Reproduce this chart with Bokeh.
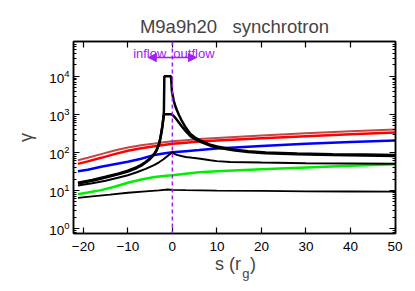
from bokeh.plotting import figure
from bokeh.models import (LogAxis, LinearAxis, Range1d, FixedTicker, LogTicker,
                          CustomJSTickFormatter, Label, Arrow, NormalHead, Span)
from bokeh.embed import file_html
from bokeh.resources import INLINE

# ---------------- data ----------------
s_col = [-21.2, -19, -16, -13, -10, -7, -4, -2, 0, 3, 6, 10, 20, 30, 40, 50]
brown = [62, 72, 90, 112, 135, 155, 172, 185, 195, 210, 225, 240, 280, 320, 360, 400]
red = [50, 58, 72, 90, 110, 128, 145, 157, 168, 180, 192, 205, 235, 265, 300, 335]
blue = [32, 35, 42, 49, 57, 68, 86, 94, 101, 108, 115, 127, 148, 168, 187, 205]
green = [8.0, 8.8, 10.2, 12.5, 16, 19.5, 22.5, 24, 25, 27.5, 30, 32, 36, 40, 44.5, 49]

s_low = [-21.2, -18, -14, -10, -6, -3, -1, 0, 3, 10, 20, 30, 40, 50]
black_low = [6.4, 7.0, 7.8, 8.7, 9.5, 10.1, 10.6, 10.4, 10.2, 9.9, 9.7, 9.5, 9.4, 9.3]

s_k1 = [-21.2, -18, -15, -12, -10, -8, -7, -6, -5, -4, -3.5, -3, -2.7, -2.4, -2.2, -2.0, -1.9, -1.8,
        -0.3, -0.1, 0.3, 0.7, 1.0, 1.5, 2, 3, 4, 5, 6.3, 8.5, 10, 13.7, 17, 21, 28, 36, 43, 50]
black_k1 = [16, 19, 23, 28, 33, 41, 47, 56, 70, 95, 120, 170, 240, 380, 550, 850, 1200, 10000,
            10000, 4000, 2300, 1600, 1300, 950, 720, 450, 310, 250, 205, 160, 143, 120, 107, 99, 93, 90, 88, 86]

s_k2 = [-21.2, -18, -15, -12, -10, -8, -7, -6, -5, -4, -3.5, -3, -2.7, -2.4, -2.2, -2.0, -1.85,
        -0.2, 0.3, 0.7, 1.0, 1.5, 2, 3, 4, 5, 6.3, 8.5, 10, 13.7, 17, 21, 28, 36, 43, 50]
black_k2 = [15.2, 18, 22, 27, 31.5, 39, 45, 54, 67, 90, 115, 160, 230, 360, 520, 800, 1000,
            1000, 900, 800, 720, 600, 500, 360, 270, 225, 190, 150, 135, 113, 102, 95, 89, 85, 83, 81]

s_k3 = [-21.2, -18, -15, -12, -10, -8, -6, -4, -3, -2, -1, -0.3, 0, 0.5, 1, 2, 3, 4.5, 6.3, 8.5,
        10, 13, 20, 30, 40, 50]
black_k3 = [13.5, 15.5, 18, 22, 25, 30, 37, 47, 55, 66, 82, 95, 100, 92, 86, 80, 76, 72, 68, 62,
            59, 56, 54, 52, 51, 50]

x_ticks = [-20, -10, 0, 10, 20, 30, 40, 50]
title_text = "M9a9h20\u00a0\u00a0\u00a0synchrotron"
xlabel_main = "s (r"
xlabel_sub = "g"
xlabel_close = ")"
FONT = "Liberation Sans"
PURPLE = "#a020f0"

p = figure(width=407, height=283, output_backend="svg", toolbar_location=None,
           y_axis_type="log", x_range=Range1d(-22.2, 50.1), y_range=Range1d(0.74, 8.2e4),
           min_border_left=73, min_border_right=12, min_border_top=41, min_border_bottom=49)
p.title.text = title_text
p.title.align = "center"
p.title.text_font = FONT
p.title.text_font_size = "18.5px"
p.title.text_font_style = "normal"
p.title.offset = 0
p.title.standoff = 10

p.grid.visible = False
p.outline_line_color = "black"
p.outline_line_width = 1.5
p.background_fill_color = "white"

def style_axis(ax, minor=True):
    ax.axis_line_width = 1.5
    ax.axis_line_color = "black"
    ax.major_tick_in = 6
    ax.major_tick_out = 0
    ax.major_tick_line_width = 1.2
    ax.minor_tick_in = 3
    ax.minor_tick_out = 0
    if not minor:
        ax.minor_tick_line_color = None
    ax.major_label_text_font = FONT
    ax.major_label_text_font_size = "13.5px"
    ax.major_label_text_color = "black"

xax = p.xaxis[0]
xax.ticker = FixedTicker(ticks=x_ticks)
style_axis(xax, minor=False)
xax.major_label_standoff = 8

yax = p.yaxis[0]
yax.ticker = LogTicker(num_minor_ticks=10)
style_axis(yax)
yax.major_label_standoff = 4
yax.axis_label = "γ"
yax.axis_label_text_font = FONT
yax.axis_label_text_font_size = "18px"
yax.axis_label_text_font_style = "normal"
yax.axis_label_standoff = 10

empty = CustomJSTickFormatter(code="return ''")
top = LinearAxis(ticker=FixedTicker(ticks=x_ticks), formatter=empty)
style_axis(top, minor=False)
top.major_label_text_font_size = "0px"
top.major_label_standoff = 0
p.add_layout(top, "above")
right = LogAxis(ticker=LogTicker(num_minor_ticks=10), formatter=empty)
style_axis(right)
right.major_label_text_font_size = "0px"
right.major_label_standoff = 0
p.add_layout(right, "right")

# x-axis title "s (r_g)" built from two label-only axes (real text, with a subscript)
def label_axis(ticks, texts, size, standoff):
    ax = LinearAxis(ticker=FixedTicker(ticks=ticks),
                    major_label_overrides={t: txt for t, txt in zip(ticks, texts)})
    ax.axis_line_color = None
    ax.major_tick_line_color = None
    ax.minor_tick_line_color = None
    ax.major_tick_out = 0
    ax.major_tick_in = 0
    ax.minor_tick_out = 0
    ax.major_label_text_font = FONT
    ax.major_label_text_font_size = size
    ax.major_label_standoff = standoff
    return ax

p.add_layout(label_axis([12.5, 18.1], [xlabel_main, xlabel_close], "18px", 0), "below")
p.add_layout(label_axis([16.5], [xlabel_sub], "13px", -11), "below")

# curves
p.line(s_col, brown, line_color="#c04848", line_width=2)
p.line(s_col, red, line_color="#ff0000", line_width=2.5)
p.line(s_col, blue, line_color="#0000ff", line_width=2.5)
p.line(s_col, green, line_color="#00ee00", line_width=2.5)
p.line(s_low, black_low, line_color="black", line_width=1.8)
p.line(s_k3, black_k3, line_color="black", line_width=2)
p.line(s_k2, black_k2, line_color="black", line_width=2.5)
p.line(s_k1, black_k1, line_color="black", line_width=2.5)

p.add_layout(Span(location=0, dimension="height", line_color=PURPLE, line_width=1.5,
                  line_dash="4 3"))

# inflow/outflow annotation
arrow_y = 3.1e4
p.add_layout(Arrow(x_start=0, y_start=arrow_y, x_end=-5.4, y_end=arrow_y, line_color=PURPLE,
                   line_width=1.5, end=NormalHead(size=8, fill_color=PURPLE, line_color=PURPLE)))
p.add_layout(Arrow(x_start=0, y_start=arrow_y, x_end=5.4, y_end=arrow_y, line_color=PURPLE,
                   line_width=1.5, end=NormalHead(size=8, fill_color=PURPLE, line_color=PURPLE)))
p.add_layout(Label(x=0, y=4.0e4, x_offset=-6, text="inflow", text_align="right",
                   text_baseline="alphabetic", text_font=FONT, text_font_size="13px",
                   text_color=PURPLE))
p.add_layout(Label(x=0, y=4.0e4, x_offset=1, text="outflow", text_align="left",
                   text_baseline="alphabetic", text_font=FONT, text_font_size="13px",
                   text_color=PURPLE))

open("out.html", "w").write(file_html(p, INLINE))
